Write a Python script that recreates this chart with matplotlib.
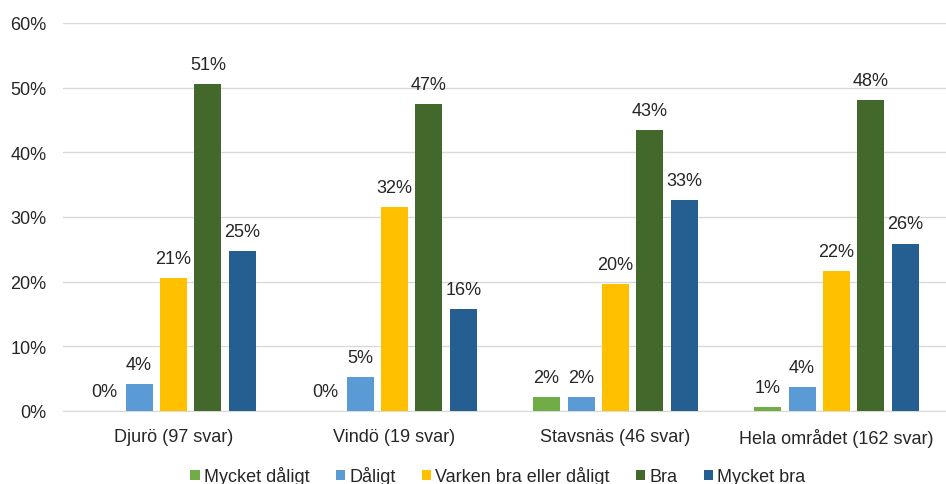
import numpy as np
import matplotlib.pyplot as plt

plt.rcParams['font.family'] = ['Liberation Sans', 'DejaVu Sans']

# Data (percent of responses)
groups = ['Djurö (97 svar)', 'Vindö (19 svar)', 'Stavsnäs (46 svar)', 'Hela området (162 svar)']
series = ['Mycket dåligt', 'Dåligt', 'Varken bra eller dåligt', 'Bra', 'Mycket bra']
mycket_daligt = [0.0, 0.0, 2.2, 0.6]
daligt = [4.1, 5.3, 2.2, 3.7]
varken = [20.6, 31.6, 19.6, 21.6]
bra = [50.5, 47.4, 43.4, 48.1]
mycket_bra = [24.7, 15.8, 32.6, 25.9]
colors = ['#70ad47', '#5b9bd5', '#ffc000', '#43682b', '#255e91']

values = [mycket_daligt, daligt, varken, bra, mycket_bra]

fig = plt.figure(figsize=(9.46, 4.85), dpi=100)
ax = fig.add_axes([63 / 946, 1 - 412 / 485, 884 / 946, 388 / 485])

x = np.arange(len(groups))
step = 0.156
width = 0.122
for i, (name, vals, c) in enumerate(zip(series, values, colors)):
    pos = x + (i - 2) * step
    bars = ax.bar(pos, vals, width, color=c, label=name, zorder=3)
    for b, v in zip(bars, vals):
        ax.annotate(f'{int(v + 0.5)}%', (b.get_x() + b.get_width() / 2, v),
                    xytext=(0, 8), textcoords='offset points',
                    ha='center', va='bottom', fontsize=13, color='#262626')

ax.set_xlim(-0.5, 3.5)
ax.set_ylim(0, 60)
ax.set_yticks(range(0, 61, 10))
ax.set_yticklabels([f'{t}%' for t in range(0, 61, 10)], fontsize=13, color='#262626')
ax.set_xticks(x)
ax.set_xticklabels(groups, fontsize=13, color='#262626')
ax.tick_params(axis='both', length=0)
ax.tick_params(axis='x', pad=12)
ax.tick_params(axis='y', pad=12)
ax.grid(axis='y', color='#d9d9d9', linewidth=1, zorder=0)
for s in ['left', 'right', 'top']:
    ax.spines[s].set_visible(False)
ax.spines['bottom'].set_color('#d9d9d9')

fig.legend(loc='center', bbox_to_anchor=(498 / 946, 1 - 477 / 485), ncol=5, frameon=False,
           fontsize=13, handlelength=0.5, handleheight=0.5, handletextpad=0.25,
           columnspacing=1.45, labelcolor='#262626')

fig.savefig('out.png', dpi=100)
